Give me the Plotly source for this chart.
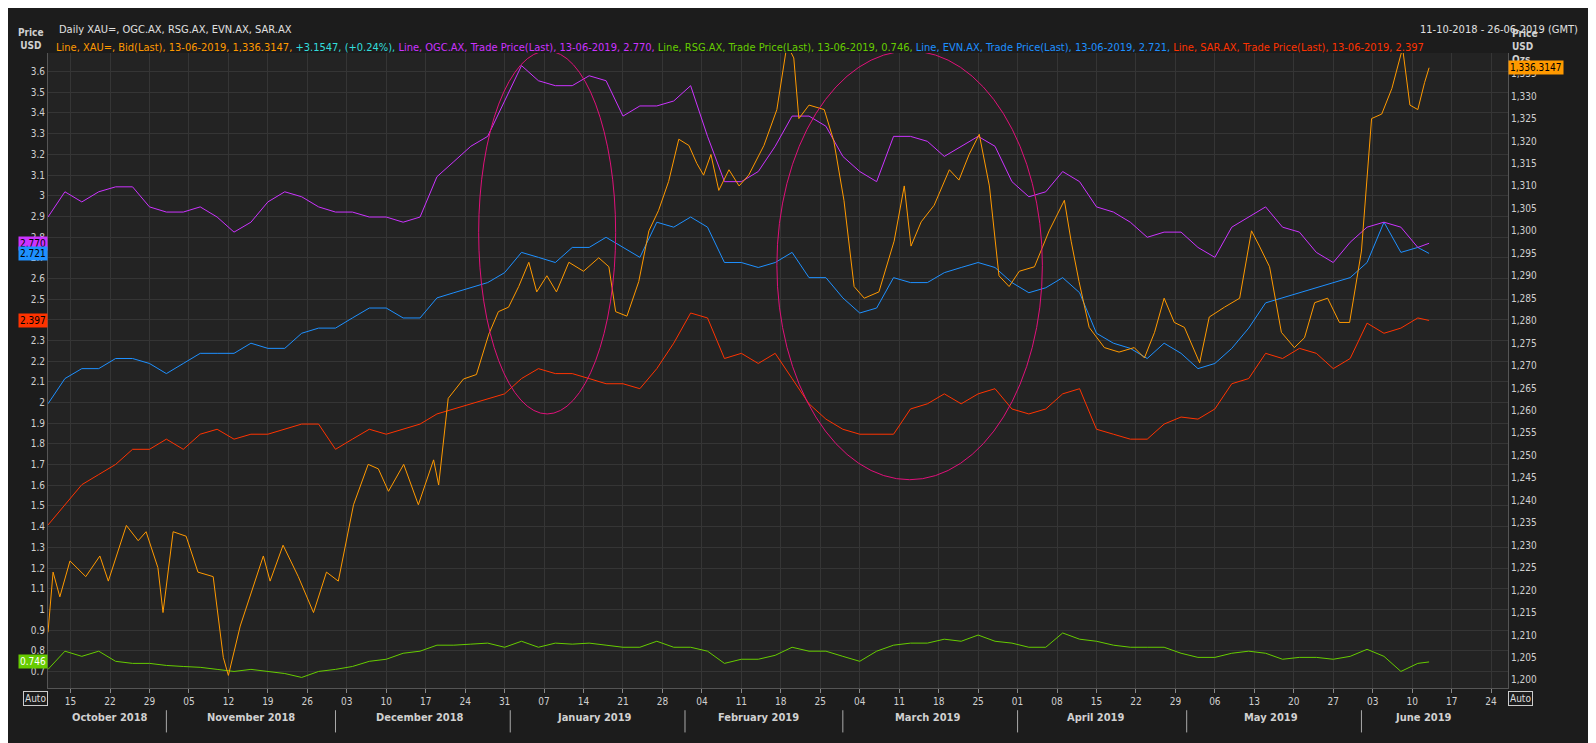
import pandas as pd
import plotly.graph_objects as go

start = pd.Timestamp("2018-10-11")

# XAU (gold) - day offsets from start, values (right axis)
xau_days = [0,0.9,2.1,3.9,6.7,9.2,10.7,13.9,16,17.4,19.5,20.4,22.2,24.5,26.6,29.3,31.1,32,34.1,36.4,38.2,39.4,41.7,44.4,47.1,49.4,51.5,54.2,56.8,58.6,60.4,63.1,65.7,68.4,69.3,71,73.7,76,78.2,79.9,81.7,83.5,85.3,86.7,88.5,90.2,92.4,95,97.7,99.5,100.7,102.7,104.8,106.6,108.3,110.1,111.9,113.7,115.1,116.3,117.6,119,120.8,122.6,124.3,127,129.3,131.1,132.3,133.2,135,137.7,139.4,141.2,143,144.8,147.4,150.1,151.9,153.1,154.9,157.2,159.9,161.6,163.4,165.2,167,168.7,170.5,172.3,175,177.6,180.3,181.5,182.9,184.7,187.4,190,192.7,194.5,196.3,198,199.8,201.6,204.3,206,208.7,211.4,213.5,214.9,216.7,218.8,221.1,222.9,224.7,227,229.1,230.9,233,234.8,236.6,238.4,240.3,241.6,243,244.2,245]
xau_vals = [1210.6,1224,1218.5,1226.5,1223,1227.6,1222,1234.4,1231,1233,1225,1215,1233,1232,1224,1223,1205,1201,1212,1221,1227.6,1222,1230,1223,1215,1224,1222,1239,1248,1247,1242,1248,1239,1249,1243.4,1262.7,1267,1268,1277,1282,1283,1287.6,1293,1286.4,1290,1286.4,1293,1291,1294,1292,1282,1281,1288.7,1300,1304.5,1311,1320.4,1319,1315,1312.4,1317,1309,1313.6,1310,1312.4,1319,1327,1341.5,1338.5,1325,1328,1327,1320,1306.8,1287.6,1285,1286.4,1297.7,1310,1296.6,1302,1305.7,1313.6,1311.3,1317,1321.5,1310,1290,1287.6,1291,1292,1300,1306.8,1297.7,1288.7,1278.5,1274,1273,1274,1271.7,1277.4,1285,1279.6,1278.5,1270.6,1280.8,1283,1285,1300,1296.6,1292,1277.4,1274,1276.2,1284,1285,1279.6,1279.6,1295.5,1325,1326,1331.7,1340.7,1328,1327,1333,1336.3147]

# Common grid for ASX stocks (every 3 days, last point 13-06-2019)
grid_days = [3*k for k in range(82)] + [245]
ogc_vals = [2.897,3.019,2.970,3.019,3.043,3.043,2.946,2.921,2.921,2.946,2.897,2.824,2.872,2.970,3.019,2.995,2.946,2.921,2.921,2.897,2.897,2.872,2.897,3.092,3.165,3.239,3.287,3.458,3.629,3.556,3.532,3.532,3.580,3.556,3.385,3.434,3.434,3.458,3.532,3.287,3.068,3.068,3.117,3.239,3.385,3.385,3.336,3.190,3.117,3.068,3.287,3.287,3.263,3.190,3.239,3.287,3.239,3.068,2.995,3.019,3.117,3.068,2.946,2.921,2.872,2.799,2.824,2.824,2.750,2.702,2.848,2.897,2.946,2.848,2.824,2.726,2.677,2.775,2.848,2.872,2.848,2.750,2.770]
evn_vals = [1.994,2.116,2.164,2.164,2.213,2.213,2.189,2.140,2.189,2.238,2.238,2.238,2.287,2.262,2.262,2.335,2.360,2.360,2.409,2.457,2.457,2.409,2.409,2.506,2.531,2.555,2.580,2.628,2.726,2.702,2.677,2.750,2.750,2.799,2.750,2.702,2.872,2.848,2.897,2.848,2.677,2.677,2.653,2.677,2.726,2.604,2.604,2.506,2.433,2.457,2.604,2.580,2.580,2.628,2.653,2.677,2.653,2.580,2.531,2.555,2.604,2.531,2.335,2.287,2.262,2.213,2.287,2.238,2.164,2.189,2.262,2.360,2.482,2.506,2.531,2.555,2.580,2.604,2.677,2.872,2.726,2.750,2.721]
sar_vals = [1.408,1.505,1.603,1.652,1.701,1.774,1.774,1.823,1.774,1.847,1.871,1.823,1.847,1.847,1.871,1.896,1.896,1.774,1.823,1.871,1.847,1.871,1.896,1.945,1.969,1.994,2.018,2.042,2.116,2.164,2.140,2.140,2.116,2.091,2.091,2.067,2.164,2.287,2.433,2.409,2.213,2.238,2.189,2.238,2.116,1.994,1.920,1.871,1.847,1.847,1.847,1.969,1.994,2.042,1.994,2.042,2.067,1.969,1.945,1.969,2.042,2.067,1.871,1.847,1.823,1.823,1.896,1.930,1.920,1.969,2.091,2.116,2.238,2.213,2.262,2.238,2.164,2.213,2.384,2.335,2.360,2.409,2.397]
rsg_vals = [0.710,0.798,0.773,0.798,0.749,0.739,0.739,0.729,0.724,0.720,0.710,0.700,0.710,0.700,0.690,0.671,0.700,0.710,0.724,0.749,0.759,0.788,0.798,0.827,0.827,0.832,0.837,0.817,0.846,0.817,0.837,0.832,0.837,0.827,0.817,0.817,0.846,0.817,0.817,0.798,0.739,0.759,0.759,0.778,0.817,0.798,0.798,0.773,0.749,0.798,0.827,0.837,0.837,0.856,0.846,0.876,0.846,0.837,0.817,0.817,0.886,0.856,0.846,0.827,0.817,0.817,0.817,0.788,0.768,0.768,0.788,0.798,0.788,0.759,0.768,0.768,0.759,0.773,0.807,0.773,0.700,0.739,0.746]

xau_dates = [start + pd.Timedelta(days=d) for d in xau_days]
grid_dates = [start + pd.Timedelta(days=d) for d in grid_days]

fig = go.Figure()
fig.add_trace(go.Scatter(x=grid_dates, y=rsg_vals, mode="lines", line=dict(color="#66cc00", width=1)))
fig.add_trace(go.Scatter(x=grid_dates, y=sar_vals, mode="lines", line=dict(color="#ff3300", width=1)))
fig.add_trace(go.Scatter(x=grid_dates, y=evn_vals, mode="lines", line=dict(color="#1e90ff", width=1)))
fig.add_trace(go.Scatter(x=grid_dates, y=ogc_vals, mode="lines", line=dict(color="#cc33ff", width=1)))
fig.add_trace(go.Scatter(x=xau_dates, y=xau_vals, mode="lines", line=dict(color="#ff9900", width=1), yaxis="y2"))

ell = "#e0107a"
fig.add_shape(type="circle", xref="x", yref="y", x0=start + pd.Timedelta(days=76.4), x1=start + pd.Timedelta(days=100.7), y0=1.945, y1=3.70, line=dict(color=ell, width=1))
fig.add_shape(type="circle", xref="x", yref="y", x0=start + pd.Timedelta(days=129.3), x1=start + pd.Timedelta(days=176.4), y0=1.627, y1=3.70, line=dict(color=ell, width=1))

tickc = "#d0d0d0"
fig.update_layout(
    width=1596, height=743, showlegend=False,
    paper_bgcolor="#1c1c1c", plot_bgcolor="#232323",
    margin=dict(l=40, r=96, t=45, b=63),
    font=dict(family="DejaVu Sans Condensed, DejaVu Sans", size=10, color=tickc),
    xaxis=dict(type="date", range=[start, pd.Timestamp("2019-06-27")], tick0="2018-10-15", dtick=7*86400000,
               tickformat="%d", gridcolor="#353535", showline=True, linecolor="#555", ticks="outside", ticklen=4, tickcolor="#888"),
    yaxis=dict(range=[0.62, 3.69], dtick=0.1, gridcolor="#353535", showline=True, linecolor="#555", zeroline=False),
    yaxis2=dict(range=[1198.2, 1339.6], dtick=5, tickformat=",d", overlaying="y", side="right", showgrid=False, showline=True, linecolor="#555"),
)

# month labels
months = [("2018-10-22", "October 2018"), ("2018-11-16", "November 2018"), ("2018-12-16", "December 2018"),
          ("2019-01-16", "January 2019"), ("2019-02-14", "February 2019"), ("2019-03-16", "March 2019"),
          ("2019-04-15", "April 2019"), ("2019-05-16", "May 2019"), ("2019-06-12", "June 2019")]
for d, t in months:
    fig.add_annotation(x=d, y=-0.033, xref="x", yref="paper", yanchor="top", text="<b>%s</b>" % t, showarrow=False, font=dict(size=11, color=tickc))
for d in ["2018-11-01", "2018-12-01", "2019-01-01", "2019-02-01", "2019-03-01", "2019-04-01", "2019-05-01", "2019-06-01"]:
    fig.add_shape(type="line", xref="x", yref="paper", x0=d, x1=d, y0=-0.035, y1=-0.07, line=dict(color="#aaa", width=1))

fig.add_annotation(x=0.006, y=1, xref="paper", yref="paper", yshift=32, xanchor="left", showarrow=False,
                   text="Daily XAU=, OGC.AX, RSG.AX, EVN.AX, SAR.AX", font=dict(size=11, color="#e0e0e0"))
fig.add_annotation(x=1, y=1, xref="paper", yref="paper", yshift=32, xanchor="left", xshift=-90, showarrow=False,
                   text="11-10-2018 - 26-06-2019 (GMT)", font=dict(size=11, color="#e0e0e0"))
hdr = ("<span style='color:#ff9900'>Line, XAU=, Bid(Last), 13-06-2019, 1,336.3147, </span><span style='color:#33dddd'>+3.1547, (+0.24%), </span>"
       "<span style='color:#cc33ff'>Line, OGC.AX, Trade Price(Last), 13-06-2019, 2.770, </span>"
       "<span style='color:#66cc00'>Line, RSG.AX, Trade Price(Last), 13-06-2019, 0.746, </span>"
       "<span style='color:#1e90ff'>Line, EVN.AX, Trade Price(Last), 13-06-2019, 2.721, </span>"
       "<span style='color:#ff3300'>Line, SAR.AX, Trade Price(Last), 13-06-2019, 2.397</span>")
fig.add_annotation(x=0, y=1, xref="paper", yref="paper", yshift=14, xanchor="left", xshift=6, showarrow=False, text=hdr, font=dict(size=11))
fig.add_annotation(x=0, y=1, xref="paper", yref="paper", xanchor="right", yanchor="bottom", xshift=-2, showarrow=False,
                   text="<b>Price<br>USD</b>", font=dict(size=10, color=tickc), align="center")
fig.add_annotation(x=1, y=1, xref="paper", yref="paper", xanchor="left", yanchor="top", xshift=2, yshift=27, showarrow=False,
                   text="<b>Price<br>USD<br>Ozs</b>", font=dict(size=10, color=tickc), align="left")

for v, c, fc in [(2.770, "#cc33ff", "#000"), (2.721, "#1e90ff", "#000"), (2.397, "#ff3300", "#000"), (0.746, "#66cc00", "#fff")]:
    fig.add_annotation(x=0, y=v, xref="paper", yref="y", xanchor="right", showarrow=False, text=f"{v:.3f}",
                       bgcolor=c, font=dict(size=10, color=fc), borderpad=1)
fig.add_annotation(x=1, y=1336.3147, xref="paper", yref="y2", xanchor="left", showarrow=False, text="1,336.3147",
                   bgcolor="#ff9900", font=dict(size=10, color="#000"), borderpad=1)
for xx, an in [(0, "right"), (1, "left")]:
    fig.add_annotation(x=xx, y=-0.005, xref="paper", yref="paper", xanchor=an, yanchor="top", showarrow=False, text="Auto",
                       bordercolor="#ccc", borderwidth=1, bgcolor="#1c1c1c", font=dict(size=10, color="#ddd"))

fig.write_html("out.html")
